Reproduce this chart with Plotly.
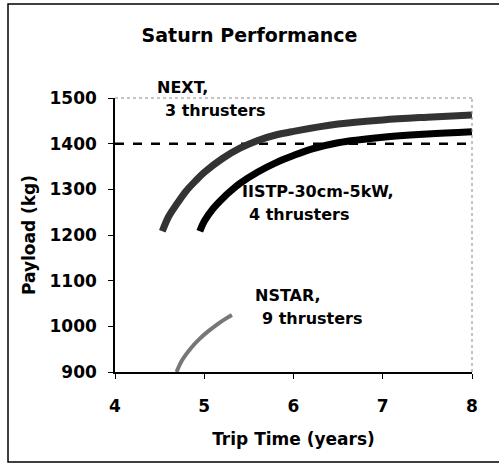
import plotly.graph_objects as go

next_x = [4.53, 4.6, 4.7, 4.8, 4.9, 5.0, 5.2, 5.4, 5.6, 5.8, 6.0, 6.5, 7.0, 7.5, 8.0]
next_y = [1208, 1240, 1270, 1297, 1318, 1337, 1367, 1390, 1407, 1419, 1427, 1443, 1452, 1458, 1463]

iistp_x = [4.95, 5.0, 5.1, 5.2, 5.3, 5.4, 5.6, 5.8, 6.0, 6.2, 6.5, 7.0, 7.5, 8.0]
iistp_y = [1208, 1230, 1258, 1279, 1297, 1313, 1338, 1358, 1374, 1388, 1402, 1414, 1421, 1426]

nstar_x = [4.69, 4.75, 4.85, 4.95, 5.05, 5.15, 5.25, 5.31]
nstar_y = [900, 925, 952, 973, 990, 1005, 1018, 1025]

ref_x = [4, 8]
ref_y = [1400, 1400]

x_ticks = [4, 5, 6, 7, 8]
y_ticks = [900, 1000, 1100, 1200, 1300, 1400, 1500]

label_texts = ["NEXT,", "3 thrusters", "IISTP-30cm-5kW,", "4 thrusters", "NSTAR,", "9 thrusters"]
label_px = [0.112, 0.1345, 0.350, 0.370, 0.387, 0.406]
label_py = [1.040, 0.956, 0.657, 0.573, 0.281, 0.197]

FONT = "Comic Sans MS, DejaVu Sans, sans-serif"

fig = go.Figure()
fig.add_trace(go.Scatter(x=ref_x, y=ref_y, mode="lines",
                         line=dict(color="black", width=2.5, dash="dash"), showlegend=False))
fig.add_trace(go.Scatter(x=next_x, y=next_y, mode="lines", line_shape="spline",
                         line=dict(color="#333333", width=7), showlegend=False))
fig.add_trace(go.Scatter(x=iistp_x, y=iistp_y, mode="lines", line_shape="spline",
                         line=dict(color="black", width=7), showlegend=False))
fig.add_trace(go.Scatter(x=nstar_x, y=nstar_y, mode="lines", line_shape="spline",
                         line=dict(color="#777777", width=4), showlegend=False))

bold = dict(family=FONT, size=16, color="black", weight=700)
for t, px, py in zip(label_texts, label_px, label_py):
    fig.add_annotation(x=px, y=py, xref="paper", yref="paper", text=t,
                       showarrow=False, xanchor="left", yanchor="middle", align="left", font=bold)

# dotted plot-area border (top & right)
fig.add_shape(type="line", xref="paper", yref="paper", x0=0, x1=1, y0=1, y1=1,
              line=dict(color="#888888", width=1, dash="dot"))
fig.add_shape(type="line", xref="paper", yref="paper", x0=1, x1=1, y0=0, y1=1,
              line=dict(color="#888888", width=1, dash="dot"))
# outer frame (open on the right)
fig.add_shape(type="path", xref="paper", yref="paper",
              path="M 1.2,1.343 L -0.2997,1.343 L -0.2997,-0.3285 L 1.2,-0.3285",
              fillcolor="rgba(0,0,0,0)", line=dict(color="black", width=1.5))

fig.update_layout(
    width=499, height=465,
    margin=dict(l=115, r=27, t=98, b=93),
    paper_bgcolor="white", plot_bgcolor="white",
    title=dict(text="Saturn Performance", x=0.5, xanchor="center", y=0.925, yanchor="middle",
               font=dict(family=FONT, size=19, color="black", weight=700)),
    xaxis=dict(range=[4, 8], tickvals=x_ticks, ticks="outside", ticklen=5, tickcolor="black",
               showgrid=False, zeroline=False, showline=True, linecolor="black", linewidth=1.5,
               tickfont=dict(family=FONT, size=17, color="black", weight=700),
               ticklabelstandoff=13,
               title=dict(text="Trip Time (years)", standoff=18,
                          font=dict(family=FONT, size=17, color="black", weight=700))),
    yaxis=dict(range=[900, 1500], tickvals=y_ticks, ticks="outside", ticklen=5, tickcolor="black",
               showgrid=False, zeroline=False, showline=True, linecolor="black", linewidth=1.5,
               tickfont=dict(family=FONT, size=17, color="black", weight=700),
               ticklabelstandoff=8,
               title=dict(text="Payload (kg)", standoff=10,
                          font=dict(family=FONT, size=17, color="black", weight=700))),
)

fig.write_html("out.html", config={"displayModeBar": False},
               post_script="document.body.style.margin='0';document.body.style.overflow='hidden';")
